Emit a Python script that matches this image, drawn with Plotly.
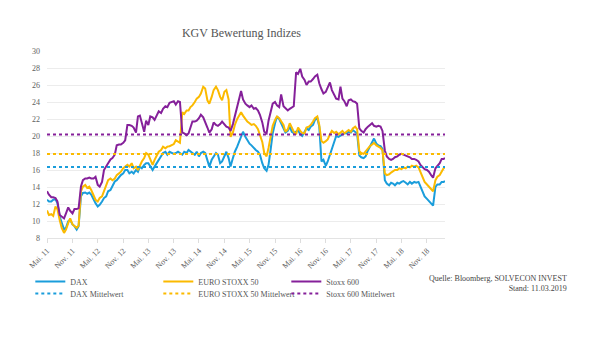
import pandas as pd
import plotly.graph_objects as go

# semi-monthly observation dates (1st and 15th), last point 11.03.2019
dates = list(pd.date_range("2011-05-01", "2019-03-01", freq="SMS").strftime("%Y-%m-%d")) + ["2019-03-11"]

dax = [
    12.5, 12.3, 12.3, 12.5, 12.55, 12.1, 10.5, 9.75, 9.0, 9.2, 9.95, 10.15,
    9.6, 9.4, 9.0, 9.4, 12.9, 13.3, 13.35, 13.2, 13.35, 13.1, 12.5, 12.1,
    11.7, 11.9, 12.3, 12.7, 12.9, 13.5, 13.65, 14.05, 14.65, 14.8, 15.2, 15.4,
    15.6, 16.0, 16.0, 15.6, 15.8, 15.6, 16.0, 15.8, 16.4, 16.2, 16.6, 16.8,
    16.8, 16.4, 16.0, 16.4, 16.8, 17.2, 17.6, 18.0, 18.15, 17.8, 18.15, 18.0,
    17.9, 18.0, 18.15, 18.0, 17.8, 18.15, 18.0, 18.35, 18.15, 18.0, 17.8, 18.15,
    17.6, 18.0, 18.15, 18.0, 17.0, 16.4, 17.2, 17.6, 18.0, 17.8, 16.8, 17.0,
    17.6, 18.15, 17.4, 16.4, 17.4, 18.15, 18.75, 19.3, 19.9, 20.5, 19.9, 19.5,
    19.1, 18.9, 18.55, 18.35, 18.15, 17.8, 16.8, 16.2, 15.9, 16.6, 18.5, 20.3,
    21.5, 22.3, 22.0, 21.5, 20.9, 20.4, 20.6, 21.1, 20.5, 20.35, 20.5, 20.7,
    20.2, 20.0, 20.5, 20.9, 20.7, 21.1, 21.3, 21.9, 22.1, 21.1, 17.0, 17.2,
    16.5, 17.0, 17.8, 18.5, 19.2, 20.0, 19.9, 20.1, 20.2, 20.35, 20.3, 20.5,
    20.4, 20.7, 20.5, 20.3, 17.7, 17.5, 17.4, 17.6, 18.3, 18.8, 19.4, 19.7,
    19.1, 18.9, 18.8, 18.5, 14.8, 14.4, 14.2, 14.5, 14.4, 14.2, 14.5, 14.4,
    14.6, 14.7, 14.5, 14.3, 14.6, 14.4, 14.6, 14.5, 14.6, 14.0, 13.3, 12.9,
    12.6, 12.3, 12.0, 11.8, 14.0, 14.3, 14.3, 14.6, 14.6, 14.7,
]

eurostoxx50 = [
    11.25, 10.7, 10.8, 10.6, 11.7, 11.4, 10.1, 9.2, 8.6, 9.0, 9.75, 10.3,
    9.6, 9.4, 9.2, 9.45, 13.5, 14.05, 14.25, 13.9, 14.05, 13.65, 13.1, 12.5,
    12.3, 12.7, 12.9, 13.5, 14.25, 14.8, 15.0, 14.8, 15.0, 15.4, 15.6, 15.8,
    16.2, 16.4, 16.6, 16.4, 16.8, 16.2, 16.4, 16.0, 16.6, 17.0, 17.4, 18.0,
    17.8, 17.2, 16.6, 17.2, 17.8, 18.15, 18.35, 18.75, 18.55, 18.75, 18.8, 18.9,
    19.05, 19.5, 19.3, 19.2, 22.8, 22.6, 23.0, 23.0, 23.4, 23.6, 24.0, 24.4,
    24.6, 25.0, 25.8, 25.6, 24.2, 23.8, 24.6, 25.4, 25.8, 25.4, 24.6, 24.2,
    25.2, 25.4, 24.3, 19.9, 20.4, 21.3, 22.0, 22.4, 22.8, 22.4, 22.0, 21.7,
    21.5, 21.3, 21.4, 21.2, 20.8, 20.0, 19.3, 18.0, 17.6, 18.6, 20.2, 21.2,
    21.9, 22.3, 22.1, 21.8, 21.3, 20.5, 20.8, 21.5, 20.9, 20.5, 20.2, 21.0,
    20.6, 20.35, 20.3, 21.0, 21.1, 21.3, 21.7, 22.1, 22.3, 21.3, 19.4, 19.2,
    19.4, 19.6, 20.2, 20.6, 20.35, 20.5, 20.2, 20.4, 20.6, 20.3, 20.5, 20.7,
    20.5, 20.9, 21.1, 20.8, 18.2, 18.0, 17.9, 18.2, 18.5, 18.8, 19.0, 19.2,
    18.9, 18.8, 18.6, 18.3, 15.6, 15.4, 15.5, 15.7, 15.9, 16.0, 16.0, 16.2,
    16.1, 16.3, 16.2, 16.4, 16.3, 16.5, 16.4, 16.5, 16.3, 15.7, 15.0, 14.6,
    14.3, 14.0, 13.7, 13.5, 14.8, 15.2, 15.4, 15.9, 16.2, 16.3,
]

stoxx600 = [
    13.5, 13.1, 12.8, 12.8, 12.7, 12.3, 10.7, 10.5, 10.3, 10.9, 11.6, 11.2,
    10.9, 11.4, 11.4, 11.5, 14.05, 14.8, 15.0, 15.0, 15.1, 15.0, 15.0, 15.2,
    14.25, 14.05, 14.6, 16.0, 16.5, 16.8, 17.25, 17.4, 17.8, 18.9, 19.0, 19.0,
    19.2, 19.5, 21.3, 21.3, 21.2, 21.0, 20.4, 22.3, 22.4, 21.5, 20.5, 21.8,
    21.3, 22.3, 22.2, 21.9, 22.5, 22.9, 22.7, 23.2, 23.5, 23.4, 23.9, 24.0,
    24.1, 23.7, 24.1, 24.0, 20.4, 20.3, 20.1, 20.3, 21.0, 21.7, 21.7, 21.8,
    22.1, 22.5, 22.2, 21.7, 21.0, 20.4, 20.8, 21.6, 21.3, 21.2, 21.4, 21.7,
    21.4, 21.1, 21.0, 20.6, 21.4, 22.4, 23.5, 24.6, 25.3, 24.3, 23.8, 23.6,
    23.4, 23.6, 23.2, 23.3, 23.0, 22.5, 21.6, 20.5, 20.3, 21.8, 23.0, 23.8,
    24.0, 23.6, 23.4, 24.9, 23.5, 23.3, 23.0, 23.2, 23.4, 23.5, 27.5, 27.3,
    27.9, 27.0, 26.6, 26.0, 26.4, 26.4, 26.7, 27.0, 27.2, 26.2, 25.5, 25.0,
    25.2, 25.8, 26.3, 25.4, 24.8, 24.4, 24.3, 25.8, 24.4, 24.1, 23.5, 24.2,
    24.3, 24.1, 24.0, 23.8, 20.9, 20.6, 20.4, 20.8, 21.1, 21.3, 21.5, 21.2,
    21.1, 21.2, 21.1, 20.6, 18.3, 17.6, 17.3, 17.2, 17.3, 17.5, 17.6, 17.8,
    17.9, 17.8, 17.7, 17.6, 17.5, 17.3, 17.3, 17.2, 17.0, 16.6, 16.3, 16.1,
    16.0, 15.8, 15.4, 15.1, 16.2, 16.5, 16.8, 17.3, 17.3, 17.4,
]

# long-term averages
dax_mean = 16.36
eurostoxx50_mean = 17.88
stoxx600_mean = 20.19

series_names = ["DAX", "EURO STOXX 50", "Stoxx 600"]
mean_names = ["DAX Mittelwert", "EURO STOXX 50 Mittelwert", "Stoxx 600 Mittelwert"]

tick_dates = ["2011-05-01", "2011-11-01", "2012-05-01", "2012-11-01", "2013-05-01", "2013-11-01",
              "2014-05-01", "2014-11-01", "2015-05-01", "2015-11-01", "2016-05-01", "2016-11-01",
              "2017-05-01", "2017-11-01", "2018-05-01", "2018-11-01"]
tick_text = ["Mai. 11", "Nov. 11", "Mai. 12", "Nov. 12", "Mai. 13", "Nov. 13",
             "Mai. 14", "Nov. 14", "Mai. 15", "Nov. 15", "Mai. 16", "Nov. 16",
             "Mai. 17", "Nov. 17", "Mai. 18", "Nov. 18"]

colors = ["#1A9DDB", "#FBBA00", "#85209A"]
FONT = "Liberation Serif"

# page offset of the figure div inside the page (body margin)
OFF = 8
# plot area geometry in screenshot px
L, R, T, B = 46.7 - OFF, 445 - OFF, 50.7 - OFF, 238.3 - OFF
PW, PH = R - L, B - T

def px_x(x):
    return (x - OFF - L) / PW

def px_y(y):
    return (B - (y - OFF)) / PH

fig = go.Figure()
for name, vals, col in zip(series_names, [dax, eurostoxx50, stoxx600], colors):
    fig.add_trace(go.Scatter(x=dates, y=vals, name=name, mode="lines",
                             line=dict(color=col, width=2), legend="legend"))
for name, m, col in zip(mean_names, [dax_mean, eurostoxx50_mean, stoxx600_mean], colors):
    fig.add_trace(go.Scatter(x=[dates[0], dates[-1]], y=[m, m], name=name, mode="lines",
                             line=dict(color=col, width=2, dash="dot"), legend="legend2"))

legend_common = dict(orientation="h", xanchor="left", yanchor="middle",
                     entrywidth=83, entrywidthmode="pixels",
                     font=dict(family=FONT, size=8, color="#555555"),
                     bgcolor="rgba(0,0,0,0)", itemwidth=30, tracegroupgap=0)

fig.update_layout(
    width=612, height=362,
    margin=dict(l=L, r=612 - R, t=T, b=362 - B, autoexpand=False),
    paper_bgcolor="white", plot_bgcolor="white",
    title=dict(text="KGV Bewertung Indizes", x=(241.5 - OFF) / 612, xanchor="center",
               y=1 - (33 - OFF) / 362, yanchor="middle",
               font=dict(family=FONT, size=12, color="#555555")),
    font=dict(family=FONT),
    legend=dict(x=px_x(30), y=px_y(282), **legend_common),
    legend2=dict(x=px_x(30), y=px_y(294), **legend_common),
    xaxis=dict(type="date", range=[dates[0], dates[-1]], tickvals=tick_dates, ticktext=tick_text,
               tickangle=-45, tickfont=dict(family=FONT, size=8, color="#606060"),
               showgrid=False, showline=True, linecolor="#e3e3e3", linewidth=1,
               ticks="outside", ticklen=4, tickcolor="#dddddd", zeroline=False, automargin=False),
    yaxis=dict(range=[8, 30], dtick=2, tick0=8, showgrid=True, gridcolor="#ececec", gridwidth=1,
               tickfont=dict(family=FONT, size=8, color="#606060"), zeroline=False,
               showline=False, ticks="", ticklabelstandoff=6, automargin=False),
    annotations=[dict(text="Quelle: Bloomberg, SOLVECON INVEST<br>Stand: 11.03.2019",
                      xref="paper", yref="paper", x=px_x(569), y=px_y(283.5),
                      xanchor="right", yanchor="middle", align="right", showarrow=False,
                      font=dict(family=FONT, size=8, color="#444444"))],
)

fig.write_html("out.html")
